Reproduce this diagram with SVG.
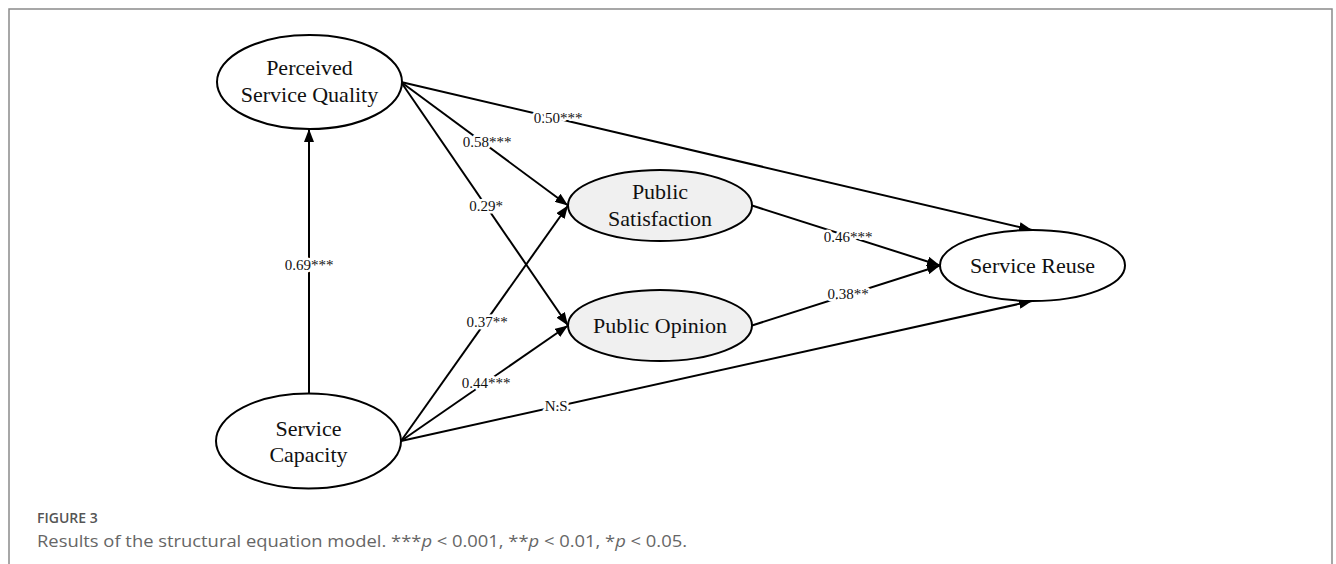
<svg xmlns="http://www.w3.org/2000/svg" width="1336" height="564" viewBox="0 0 1336 564">
<style>
.node ellipse{stroke:#000;stroke-width:2;}
.plain{fill:#fff;}
.med{fill:#f0f0f0;}
.nt{font-family:"Liberation Serif","Times New Roman",serif;font-size:22px;fill:#111;text-anchor:middle;}
.edge{stroke:#000;stroke-width:2;fill:none;marker-end:url(#arr);}
.lbl{font-family:"Liberation Serif","Times New Roman",serif;font-size:15px;fill:#111;text-anchor:middle;stroke:#fff;stroke-width:5;paint-order:stroke;stroke-linejoin:round;}
.cap1{font-family:"Open Sans","Noto Sans",sans-serif;font-size:14px;font-weight:600;fill:#555;}
.cap2{font-family:"Open Sans","Noto Sans",sans-serif;font-size:16px;fill:#666;}
</style>
<defs>
<marker id="arr" markerWidth="14" markerHeight="10" refX="13" refY="5" orient="auto" markerUnits="userSpaceOnUse">
<path d="M0,0 L13,5 L0,10 z" fill="#000"/>
</marker>
</defs>
<rect x="0" y="0" width="1336" height="564" fill="#fff"/>
<rect x="9" y="9" width="1323" height="600" fill="none" stroke="#8a8a8a" stroke-width="1.5"/>
<g id="connectors">
<line class="edge" x1="309" y1="393" x2="309" y2="129"/>
<line class="edge" x1="401" y1="82" x2="1032" y2="230"/>
<line class="edge" x1="401" y1="82" x2="568" y2="205.5"/>
<line class="edge" x1="401" y1="82" x2="568" y2="325.5"/>
<line class="edge" x1="401" y1="441" x2="568" y2="205.5"/>
<line class="edge" x1="401" y1="441" x2="568" y2="325.5"/>
<line class="edge" x1="401" y1="441" x2="1032" y2="301"/>
<line class="edge" x1="752" y1="205.5" x2="940" y2="265.5"/>
<line class="edge" x1="752" y1="325.5" x2="940" y2="265.5"/>
<text class="lbl" x="309" y="270">0.69***</text>
<text class="lbl" x="558" y="123">0.50***</text>
<text class="lbl" x="487" y="147">0.58***</text>
<text class="lbl" x="486" y="211">0.29*</text>
<text class="lbl" x="487" y="327">0.37**</text>
<text class="lbl" x="486" y="388">0.44***</text>
<text class="lbl" x="558" y="411">N.S.</text>
<text class="lbl" x="848" y="242">0.46***</text>
<text class="lbl" x="848" y="299">0.38**</text>
</g>
<g id="psq" class="node">
<ellipse class="plain" cx="309.5" cy="82" rx="92.5" ry="47"/>
<text class="nt" x="309.5" y="75">Perceived</text>
<text class="nt" x="309.5" y="101.5">Service Quality</text>
</g>
<g id="ps" class="node">
<ellipse class="med" cx="660" cy="205.5" rx="92" ry="35.5"/>
<text class="nt" x="660" y="199">Public</text>
<text class="nt" x="660" y="225.5">Satisfaction</text>
</g>
<g id="po" class="node">
<ellipse class="med" cx="660" cy="325.5" rx="92" ry="35.5"/>
<text class="nt" x="660" y="333">Public Opinion</text>
</g>
<g id="sc" class="node">
<ellipse class="plain" cx="308.5" cy="441" rx="92.5" ry="47.5"/>
<text class="nt" x="308.5" y="435.5">Service</text>
<text class="nt" x="308.5" y="461.5">Capacity</text>
</g>
<g id="sr" class="node">
<ellipse class="plain" cx="1032.5" cy="265.5" rx="92.5" ry="35.5"/>
<text class="nt" x="1032.5" y="273">Service Reuse</text>
</g>
<g id="caption">
<text class="cap1" x="37" y="523">FIGURE 3</text>
<text class="cap2" x="37" y="547" textLength="650" lengthAdjust="spacingAndGlyphs">Results of the structural equation model. ***<tspan font-style="italic">p</tspan> &lt; 0.001, **<tspan font-style="italic">p</tspan> &lt; 0.01, *<tspan font-style="italic">p</tspan> &lt; 0.05.</text>
</g>
</svg>
